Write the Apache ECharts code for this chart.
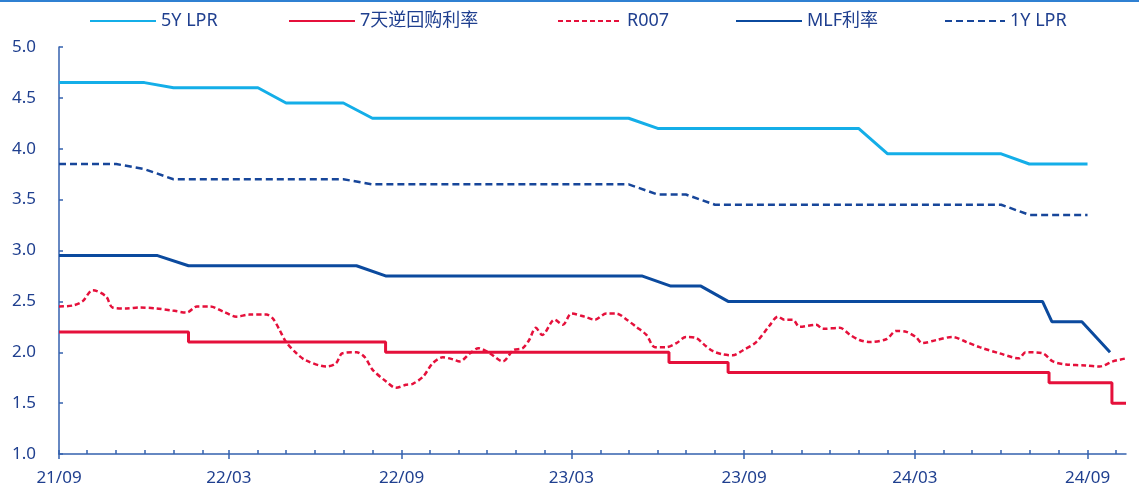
<!DOCTYPE html>
<html>
<head>
<meta charset="utf-8">
<script src="https://cdn.jsdelivr.net/npm/echarts@6/dist/echarts.min.js"></script>
<style>
  html, body { margin: 0; padding: 0; background: #ffffff; }
  #chart { width: 1139px; height: 497px; }
</style>
</head>
<body>
<div id="chart"></div>
<script>
// Monthly LPR fixings (plotted at the start of each month)
const lprMonths = ['2021-09','2021-10','2021-11','2021-12','2022-01','2022-02','2022-03','2022-04','2022-05','2022-06','2022-07','2022-08','2022-09','2022-10','2022-11','2022-12','2023-01','2023-02','2023-03','2023-04','2023-05','2023-06','2023-07','2023-08','2023-09','2023-10','2023-11','2023-12','2024-01','2024-02','2024-03','2024-04','2024-05','2024-06','2024-07','2024-08','2024-09'];
const lpr5Y = [4.65,4.65,4.65,4.65,4.60,4.60,4.60,4.60,4.45,4.45,4.45,4.30,4.30,4.30,4.30,4.30,4.30,4.30,4.30,4.30,4.30,4.20,4.20,4.20,4.20,4.20,4.20,4.20,4.20,3.95,3.95,3.95,3.95,3.95,3.85,3.85,3.85];
const lpr1Y = [3.85,3.85,3.85,3.80,3.70,3.70,3.70,3.70,3.70,3.70,3.70,3.65,3.65,3.65,3.65,3.65,3.65,3.65,3.65,3.65,3.65,3.55,3.55,3.45,3.45,3.45,3.45,3.45,3.45,3.45,3.45,3.45,3.45,3.45,3.35,3.35,3.35];

// MLF rate at operation dates
const mlfRate = [
  ['2021-09-01',2.95],['2021-12-15',2.95],['2022-01-17',2.85],['2022-07-15',2.85],
  ['2022-08-15',2.75],['2023-05-15',2.75],['2023-06-15',2.65],['2023-07-17',2.65],
  ['2023-08-15',2.50],['2024-07-15',2.50],['2024-07-25',2.30],['2024-08-26',2.30],
  ['2024-09-25',2.00]
];

// 7-day reverse repo policy rate (step changes)
const repo7D = [
  ['2021-09-01',2.20],['2022-01-17',2.10],['2022-08-15',2.00],['2023-06-13',1.90],
  ['2023-08-15',1.80],['2024-07-22',1.70],['2024-09-27',1.50],['2024-10-12',1.50]
];

// R007 (smoothed)
const r007 = [
  ['2021-09-01',2.45],['2021-09-16',2.46],['2021-09-26',2.50],['2021-10-07',2.61],['2021-10-21',2.55],
  ['2021-10-28',2.44],['2021-11-12',2.43],['2021-11-26',2.44],['2021-12-14',2.43],['2021-12-31',2.41],
  ['2022-01-15',2.39],['2022-01-26',2.45],['2022-02-09',2.45],['2022-02-23',2.40],['2022-03-09',2.35],
  ['2022-03-23',2.37],['2022-04-10',2.37],['2022-04-17',2.33],['2022-04-24',2.22],['2022-05-01',2.10],
  ['2022-05-12',1.99],['2022-05-22',1.92],['2022-06-13',1.86],['2022-06-23',1.89],['2022-06-30',1.99],
  ['2022-07-15',2.00],['2022-07-24',1.95],['2022-08-01',1.83],['2022-08-16',1.71],['2022-08-26',1.65],
  ['2022-09-06',1.68],['2022-09-13',1.69],['2022-09-24',1.76],['2022-10-04',1.89],['2022-10-15',1.95],
  ['2022-10-26',1.93],['2022-11-02',1.91],['2022-11-13',1.99],['2022-11-22',2.04],['2022-12-04',1.99],
  ['2022-12-18',1.91],['2022-12-29',2.02],['2023-01-08',2.04],['2023-01-15',2.12],['2023-01-22',2.24],
  ['2023-01-29',2.17],['2023-02-11',2.32],['2023-02-20',2.27],['2023-03-01',2.38],['2023-03-15',2.35],
  ['2023-03-26',2.32],['2023-04-07',2.38],['2023-04-18',2.38],['2023-04-29',2.32],['2023-05-09',2.25],
  ['2023-05-20',2.17],['2023-05-29',2.05],['2023-06-10',2.05],['2023-06-21',2.09],['2023-07-01',2.15],
  ['2023-07-12',2.14],['2023-07-21',2.07],['2023-07-30',2.01],['2023-08-09',1.98],['2023-08-20',1.97],
  ['2023-08-31',2.02],['2023-09-14',2.10],['2023-09-28',2.26],['2023-10-07',2.35],['2023-10-14',2.32],
  ['2023-10-23',2.32],['2023-10-30',2.25],['2023-11-17',2.27],['2023-11-24',2.23],['2023-12-12',2.24],
  ['2023-12-23',2.17],['2024-01-02',2.12],['2024-01-13',2.10],['2024-01-31',2.13],['2024-02-10',2.21],
  ['2024-02-21',2.20],['2024-03-02',2.15],['2024-03-09',2.09],['2024-03-24',2.12],['2024-04-10',2.15],
  ['2024-04-25',2.10],['2024-05-09',2.05],['2024-05-30',1.99],['2024-06-20',1.94],['2024-06-27',2.00],
  ['2024-07-15',1.99],['2024-07-26',1.91],['2024-08-09',1.88],['2024-08-30',1.87],['2024-09-14',1.86],
  ['2024-09-28',1.91],['2024-10-12',1.94]
];

// Axis range and tick months
const axisStart = '2021-09-01';
const axisEnd = '2024-10-12';
const tickMonths = lprMonths.concat(['2024-10']);
const labelMonths = ['2021-09','2022-03','2022-09','2023-03','2023-09','2024-03','2024-09'];

// x positions are days counted from the axis start
const T0 = (function () { const p = axisStart.split('-').map(Number); return Date.UTC(p[0], p[1] - 1, p[2]); })();
function dayOf(s) {
  const p = s.split('-').map(Number);
  return Math.round((Date.UTC(p[0], p[1] - 1, p[2] || 1) - T0) / 864e5);
}
const monthLabel = {};
tickMonths.forEach(m => { monthLabel[dayOf(m)] = m.slice(2, 4) + '/' + m.slice(5, 7); });

const toXY = arr => arr.map(d => [dayOf(d[0]), d[1]]);
const lpr5YData = lprMonths.map((m, i) => [dayOf(m), lpr5Y[i]]);
const lpr1YData = lprMonths.map((m, i) => [dayOf(m), lpr1Y[i]]);

const axisBlue = '#3561AE';
const textBlue = '#1F3F8F';
const fontLatin = "'Noto Sans', 'Noto Sans CJK SC', sans-serif";

const chart = echarts.init(document.getElementById('chart'), null, { renderer: 'canvas' });

// one legend block per series so each sits at its own spot in the header row
function legendAt(name, left, width) {
  return {
    data: [name], left: left, top: 10, itemWidth: width, itemHeight: 22,
    padding: 0, selectedMode: false,
    itemStyle: { opacity: 0 },
    textStyle: { color: textBlue, fontSize: 18, fontFamily: fontLatin, lineHeight: 22, padding: [0, 0, 0, 0] }
  };
}

chart.setOption({
  animation: false,
  backgroundColor: '#ffffff',
  graphic: [{
    type: 'rect', shape: { x: 0, y: 0, width: 1139, height: 2 },
    style: { fill: '#2F80D2' }, silent: true
  }],
  legend: [
    legendAt('5Y LPR', 89, 66),
    legendAt('7天逆回购利率', 288, 66),
    legendAt('R007', 557, 64),
    legendAt('MLF利率', 735, 66),
    legendAt('1Y LPR', 944, 60)
  ],
  grid: { left: 59, right: 13, top: 47, bottom: 43, containLabel: false },
  xAxis: [{
    type: 'value', min: 0, max: dayOf(axisEnd),
    axisLine: { show: true, lineStyle: { color: axisBlue, width: 1.5 } },
    axisTick: { show: true, inside: true, length: 4, lineStyle: { color: axisBlue, width: 1.5 },
      customValues: tickMonths.map(dayOf) },
    axisLabel: {
      customValues: labelMonths.map(dayOf),
      formatter: v => monthLabel[v] || '',
      color: textBlue, fontSize: 17, fontFamily: fontLatin, margin: 16
    },
    splitLine: { show: false }
  }, {
    type: 'value', min: 0, max: dayOf(axisEnd), position: 'bottom', gridIndex: 0,
    axisLine: { show: false },
    axisTick: { show: true, inside: false, length: 5, lineStyle: { color: axisBlue, width: 1.5 },
      customValues: labelMonths.map(dayOf) },
    axisLabel: { show: false },
    splitLine: { show: false }
  }],
  yAxis: {
    type: 'value', min: 1, max: 5, interval: 0.5,
    axisLine: { show: true, lineStyle: { color: axisBlue, width: 1.5 } },
    axisTick: { show: true, inside: true, length: 4, lineStyle: { color: axisBlue, width: 1.5 } },
    axisLabel: { formatter: v => v.toFixed(1), color: textBlue, fontSize: 17, fontFamily: fontLatin, margin: 23 },
    splitLine: { show: false }
  },
  series: [
    { name: '5Y LPR', type: 'line', symbol: 'none', data: lpr5YData,
      lineStyle: { color: '#14AEE8', width: 3 }, itemStyle: { color: '#14AEE8' } },
    { name: '7天逆回购利率', type: 'line', symbol: 'none', step: 'end', data: toXY(repo7D),
      lineStyle: { color: '#E5103B', width: 3 }, itemStyle: { color: '#E5103B' } },
    { name: 'R007', type: 'line', symbol: 'none', smooth: 0.3, data: toXY(r007),
      lineStyle: { color: '#E5103B', width: 2.5, type: [5, 3] }, itemStyle: { color: '#E5103B' } },
    { name: 'MLF利率', type: 'line', symbol: 'none', data: toXY(mlfRate),
      lineStyle: { color: '#0B4A9E', width: 3 }, itemStyle: { color: '#0B4A9E' } },
    { name: '1Y LPR', type: 'line', symbol: 'none', data: lpr1YData,
      lineStyle: { color: '#17469A', width: 2.5, type: [7, 4] }, itemStyle: { color: '#17469A' } }
  ]
});
</script>
</body>
</html>
